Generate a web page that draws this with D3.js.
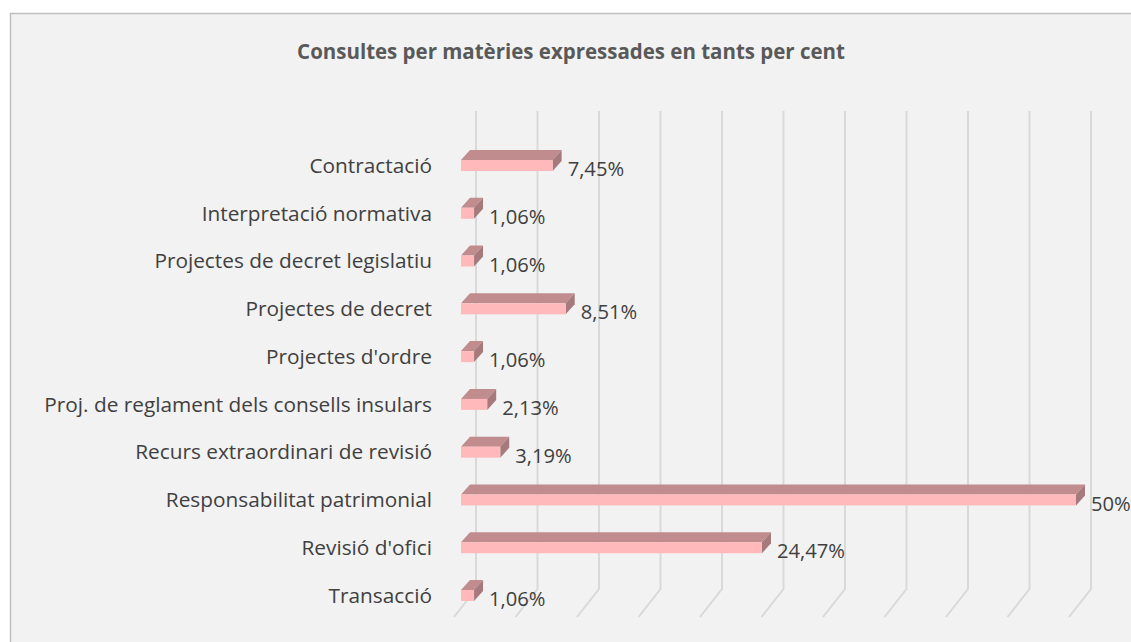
<!DOCTYPE html>
<html><head><meta charset="utf-8">
<script src="https://cdn.jsdelivr.net/npm/d3@7"></script>
<style>body{margin:0;background:#fff;} svg{display:block;}</style>
</head><body>
<svg id="c" width="1131" height="642"></svg>
<script>
const categories = ["Contractació","Interpretació normativa","Projectes de decret legislatiu","Projectes de decret","Projectes d'ordre","Proj. de reglament dels consells insulars","Recurs extraordinari de revisió","Responsabilitat patrimonial","Revisió d'ofici","Transacció"];
const values = [7.45,1.06,1.06,8.51,1.06,2.13,3.19,50,24.47,1.06];
const valueLabels = ["7,45%","1,06%","1,06%","8,51%","1,06%","2,13%","3,19%","50%","24,47%","1,06%"];
const title = "Consultes per matèries expressades en tants per cent";
const gridTicks = d3.range(0, 55, 5);

const FONT = "'Open Sans', Lato, sans-serif";
const svg = d3.select("#c");

function fitSize(text, weight, targetWidth){
  const t = svg.append("text").attr("font-family",FONT).attr("font-weight",weight).attr("font-size",100).text(text);
  const w = t.node().getComputedTextLength();
  t.remove();
  return 100*targetWidth/w;
}
const catSize = fitSize("Proj. de reglament dels consells insulars","normal",388);
const valSize = fitSize("24,47%","normal",68);
const titleSize = fitSize(title,"bold",548);

svg.append("rect").attr("x",10.5).attr("y",13.5).attr("width",1140).attr("height",650)
  .attr("fill","#F2F2F2").attr("stroke","#BFBFBF").attr("stroke-width",1.5);

svg.append("text").attr("x",571).attr("y",52).attr("dy","0.35em").attr("text-anchor","middle")
  .attr("font-family",FONT).attr("font-weight","bold").attr("font-size",titleSize)
  .attr("fill","#595959").text(title);

const x = d3.scaleLinear().domain([0,50]).range([0,615]);
const y = d3.scalePoint().domain(categories).range([164,594]);

const backX0 = 476, floorDX = -22, floorDY = 28, gridTop = 111, gridBottom = 589;
const g = svg.append("g");
gridTicks.forEach(t=>{
  const bx = backX0 + x(t);
  g.append("path").attr("d",`M${bx},${gridTop}L${bx},${gridBottom}L${bx+floorDX},${gridBottom+floorDY}`)
   .attr("fill","none").attr("stroke","#D9D9D9").attr("stroke-width",2);
});

const barX0 = 461, dDX = 9, dDY = -10, fh = 11;
const bars = svg.append("g");
categories.forEach((c,i)=>{
  const v = values[i];
  const y0 = y(c) - 4;
  const x1 = barX0 + x(v);
  bars.append("path").attr("d",`M${barX0},${y0}L${barX0+dDX},${y0+dDY}L${x1+dDX},${y0+dDY}L${x1},${y0}Z`).attr("fill","#C08C8E");
  bars.append("path").attr("d",`M${x1},${y0}L${x1+dDX},${y0+dDY}L${x1+dDX},${y0+dDY+fh}L${x1},${y0+fh}Z`).attr("fill","#A67A7C");
  bars.append("rect").attr("x",barX0).attr("y",y0).attr("width",x(v)).attr("height",fh).attr("fill","#FFB9BB");
  bars.append("text").attr("x",x1+dDX+6).attr("y",y0+9).attr("dy","0.35em")
    .attr("font-family",FONT).attr("font-size",valSize).attr("fill","#404040").text(valueLabels[i]);
  svg.append("text").attr("x",432).attr("y",y(c)+1.5).attr("dy","0.35em").attr("text-anchor","end")
    .attr("font-family",FONT).attr("font-size",catSize).attr("fill","#404040").text(c);
});
</script>
</body></html>
